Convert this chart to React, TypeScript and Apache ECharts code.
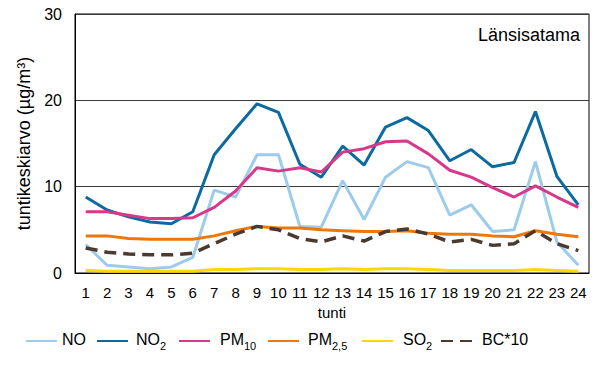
import React, { useEffect, useRef } from "react";
import * as echarts from "echarts";

const hours = ["1","2","3","4","5","6","7","8","9","10","11","12","13","14","15","16","17","18","19","20","21","22","23","24"];
const NO = [3.3,0.9,0.7,0.5,0.7,1.8,9.6,8.8,13.7,13.7,5.4,5.3,10.7,6.2,11.1,12.9,12.2,6.7,7.9,4.8,5.0,12.9,3.6,0.9];
const NO2 = [8.8,7.3,6.5,5.9,5.7,7.1,13.7,16.7,19.6,18.6,12.6,11.1,14.7,12.5,16.9,18.0,16.5,13.0,14.3,12.3,12.8,18.7,11.2,7.9];
const PM10 = [7.1,7.1,6.7,6.3,6.3,6.4,7.6,9.5,12.2,11.8,12.2,11.7,14.0,14.4,15.2,15.3,13.8,11.9,11.1,9.9,8.8,10.1,8.8,7.6];
const PM25 = [4.3,4.3,4.0,3.9,3.9,3.9,4.3,4.9,5.4,5.2,5.2,5.0,4.9,4.8,4.8,4.9,4.6,4.5,4.5,4.3,4.2,4.9,4.5,4.2];
const SO2 = [0.3,0.2,0.2,0.2,0.2,0.2,0.4,0.4,0.5,0.5,0.4,0.4,0.5,0.4,0.5,0.5,0.4,0.3,0.3,0.3,0.3,0.4,0.3,0.2];
const BC10 = [2.9,2.4,2.2,2.1,2.1,2.3,3.4,4.5,5.4,5.0,4.0,3.6,4.3,3.7,4.8,5.1,4.5,3.6,3.9,3.2,3.4,4.9,3.4,2.6];
const yTicks = [0, 10, 20, 30];

const FONT = "Liberation Sans, Arial, sans-serif";

export default function App() {
  const ref = useRef<HTMLDivElement>(null);
  useEffect(() => {
    if (!ref.current) return;
    const chart = echarts.init(ref.current, undefined, { renderer: "svg" });
    const mk = (name: string, data: number[], color: string, dashed = false) => ({
      name,
      type: "line",
      data,
      symbol: "none",
      showSymbol: false,
      lineStyle: { color, width: dashed ? 3.5 : 3, type: dashed ? [12, 7] : "solid", cap: "butt" },
      itemStyle: { color },
      z: 3,
    });
    const rich = {
      b: { fontSize: 16, fontFamily: FONT, color: "#000", lineHeight: 20, verticalAlign: "top" },
      s: { fontSize: 11, fontFamily: FONT, color: "#000", lineHeight: 20, verticalAlign: "bottom", padding: [8, 0, 0, 0] },
    };
    const labels: Record<string, string> = {
      NO: "{b|NO}",
      NO2: "{b|NO}{s|2}",
      PM10: "{b|PM}{s|10}",
      "PM2,5": "{b|PM}{s|2,5}",
      SO2: "{b|SO}{s|2}",
      "BC*10": "{b|BC*10}",
    };
    const legendPos: [string, number, number, number][] = [
      ["NO", 25, 31, 0],
      ["NO2", 96, 31, 3],
      ["PM10", 178, 31, 5],
      ["PM2,5", 267, 31, 4],
      ["SO2", 361, 31, 5],
      ["BC*10", 440, 36, 0],
    ];
    const legends = legendPos.map(([n, x, w, pad]) => ({
      data: [n],
      left: x,
      top: 331,
      itemWidth: w,
      itemHeight: 14,
      itemGap: 0,
      padding: 0,
      itemStyle: { opacity: 0 },
      formatter: () => labels[n],
      textStyle: { rich, fontFamily: FONT, fontSize: 16, color: "#000", padding: [0, 0, 0, pad] },
    }));
    chart.setOption({
      animation: false,
      backgroundColor: "#fff",
      textStyle: { fontFamily: FONT },
      title: {
        text: "Länsisatama",
        right: 26,
        top: 26,
        padding: 0,
        textStyle: { fontFamily: FONT, fontSize: 18, fontWeight: "normal", color: "#000" },
      },
      grid: {
        left: 75,
        right: 17,
        top: 14,
        bottom: 95,
        show: true,
        borderColor: "#000",
        borderWidth: 1,
        backgroundColor: "transparent",
      },
      legend: legends,
      xAxis: {
        type: "category",
        data: hours,
        boundaryGap: true,
        name: "tunti",
        nameLocation: "middle",
        nameGap: 32,
        nameTextStyle: { fontFamily: FONT, fontSize: 15, color: "#000" },
        axisLine: { show: true, lineStyle: { color: "#000", width: 1 } },
        axisTick: { show: false },
        axisLabel: { fontFamily: FONT, fontSize: 15, color: "#000", margin: 12, interval: 0 },
      },
      yAxis: {
        type: "value",
        min: 0,
        max: 30,
        interval: 10,
        name: "tuntikeskiarvo (µg/m³)",
        nameLocation: "middle",
        nameGap: 40,
        nameTextStyle: { fontFamily: FONT, fontSize: 18, color: "#000" },
        axisLine: { show: true, lineStyle: { color: "#000" } },
        axisTick: { show: false },
        axisLabel: {
          fontFamily: FONT,
          fontSize: 16,
          color: "#000",
          margin: 13,
          formatter: (v: number) => (yTicks.includes(v) ? String(v) : ""),
        },
        splitLine: { show: true, lineStyle: { color: "#3a3a3a", width: 1 } },
      },
      series: [
        mk("NO", NO, "#9dcbeb"),
        mk("NO2", NO2, "#0c6aa2"),
        mk("PM10", PM10, "#d9388a"),
        mk("PM2,5", PM25, "#ec780b"),
        mk("SO2", SO2, "#fcd800"),
        mk("BC*10", BC10, "#4a3a30", true),
      ],
    });
    return () => chart.dispose();
  }, []);
  return <div ref={ref} style={{ width: 606, height: 368, position: "absolute", left: 0, top: 0 }} />;
}
